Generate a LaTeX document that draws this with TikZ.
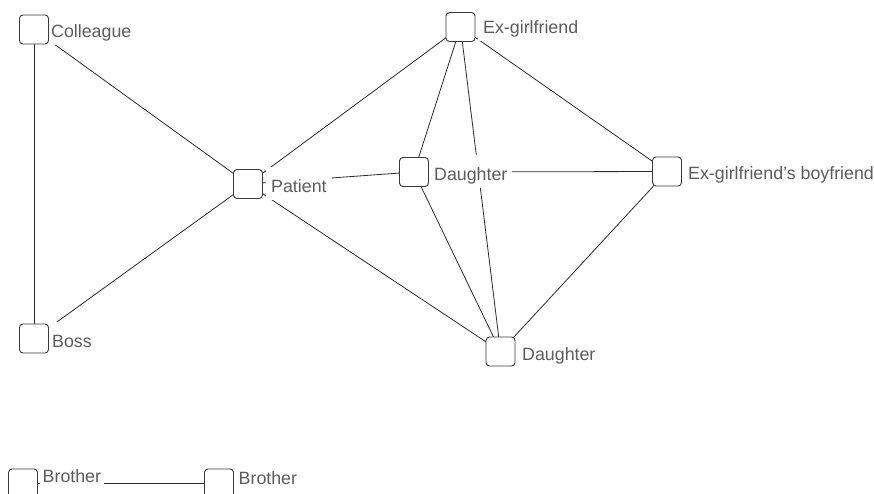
\documentclass[tikz,border=0pt]{standalone}
\usepackage{fontspec}
\setmainfont{Liberation Sans}
\begin{document}
\begin{tikzpicture}[x=1pt,y=-1pt,
  box/.style={draw=boxc, fill=white, line width=0.9pt, rounded corners=3.5pt, minimum width=29pt, minimum height=29pt, inner sep=0pt},
  lbl/.style={fill=white, text=txtc, anchor=base west, inner xsep=5pt, inner ysep=4pt, text height=21pt, text depth=4pt, font=\fontsize{17.8}{20}\selectfont},
  edge/.style={draw=linec, line width=0.8pt}]
\definecolor{boxc}{HTML}{3A3A3A}
\definecolor{linec}{HTML}{2A2A2A}
\definecolor{txtc}{HTML}{5C5C5C}
\clip (0,0) rectangle (874,493);
\useasboundingbox (0,0) rectangle (874,493);
% box centres
\coordinate (colc) at (34,29.5);
\coordinate (bossc) at (34,338.5);
\coordinate (patc) at (248,184);
\coordinate (dmc) at (414,172);
\coordinate (exc) at (460.5,27);
\coordinate (bfc) at (667,171.5);
\coordinate (dbc) at (500.5,351.5);
\coordinate (b1c) at (23,483.5);
\coordinate (b2c) at (219,483.5);
% edges
\draw[edge] (colc) -- (bossc);
\draw[edge] (colc) -- (patc);
\draw[edge] (bossc) -- (patc);
\draw[edge] (patc) -- (exc);
\draw[edge] (patc) -- (dmc);
\draw[edge] (patc) -- (dbc);
\draw[edge] (dmc) -- (exc);
\draw[edge] (dmc) -- (bfc);
\draw[edge] (dmc) -- (dbc);
\draw[edge] (exc) -- (dbc);
\draw[edge] (exc) -- (bfc);
\draw[edge] (bfc) -- (dbc);
\draw[edge] (b1c) -- (b2c);
% labels
\node[lbl] (lcol) at (46,37) {Colleague};
\node[lbl] (lboss) at (47,347) {Boss};
\node[lbl] (lpat) at (266,192) {Patient};
\node[lbl] (ldm) at (429,180) {Daughter};
\node[lbl] (lex) at (478,33) {Ex-girlfriend};
\node[lbl] (lbf) at (683,179) {Ex-girlfriend’s boyfriend};
\node[lbl] (ldb) at (517,360) {Daughter};
\node[lbl, inner xsep=3pt, text height=13pt, text depth=2pt] (lb1) at (39.5,482) {Brother};
\node[lbl, inner xsep=3pt, text height=13pt, text depth=2pt] (lb2) at (235.5,484) {Brother};
% boxes
\node[box] (col) at (colc) {};
\node[box] (boss) at (bossc) {};
\node[box] (pat) at (patc) {};
\node[box] (dm) at (dmc) {};
\node[box] (ex) at (exc) {};
\node[box] (bf) at (bfc) {};
\node[box] (db) at (dbc) {};
\node[box] (b1) at (b1c) {};
\node[box] (b2) at (b2c) {};
\end{tikzpicture}
\end{document}
